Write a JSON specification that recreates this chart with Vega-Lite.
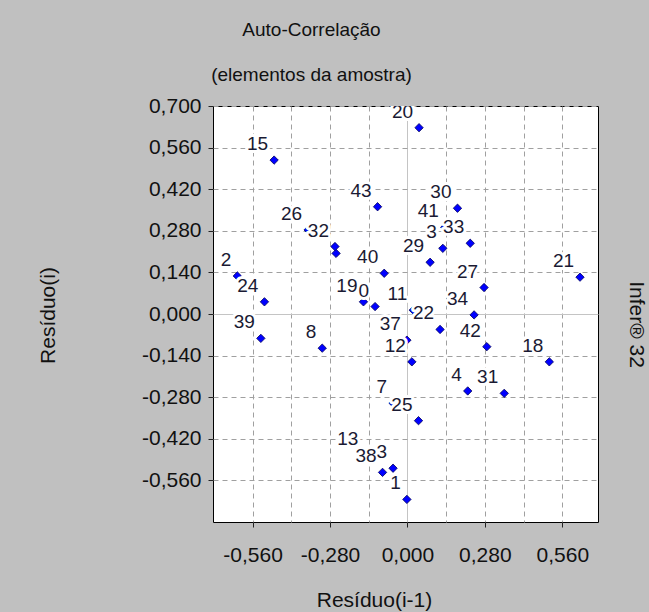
{
  "$schema": "https://vega.github.io/schema/vega-lite/v6.json",
  "width": 385,
  "height": 416,
  "autosize": {"type": "none"},
  "padding": {"left": 213, "top": 106, "right": 51, "bottom": 90},
  "background": "#c0c0c0",
  "title": {
    "text": "Auto-Correlação",
    "subtitle": "(elementos da amostra)",
    "font": "Liberation Sans",
    "subtitleFont": "Liberation Sans",
    "fontSize": 19,
    "subtitleFontSize": 19,
    "fontWeight": "normal",
    "color": "#111111",
    "subtitleColor": "#111111",
    "anchor": "middle",
    "frame": "group",
    "dx": -94,
    "offset": 10,
    "subtitlePadding": 26
  },
  "data": {
    "values": [
      {"x": 0.042, "y": 0.627, "label": "20"},
      {"x": -0.482, "y": 0.518, "label": "15"},
      {"x": -0.108, "y": 0.361, "label": "43"},
      {"x": 0.181, "y": 0.356, "label": "30"},
      {"x": 0.135, "y": 0.292, "label": "41"},
      {"x": 0.128, "y": 0.221, "label": "3"},
      {"x": 0.227, "y": 0.238, "label": "33"},
      {"x": 0.082, "y": 0.174, "label": "29"},
      {"x": -0.084, "y": 0.137, "label": "40"},
      {"x": 0.624, "y": 0.124, "label": "21"},
      {"x": 0.277, "y": 0.089, "label": "27"},
      {"x": -0.359, "y": 0.283, "label": "26"},
      {"x": -0.258, "y": 0.204, "label": ""},
      {"x": -0.262, "y": 0.227, "label": "32"},
      {"x": -0.615, "y": 0.128, "label": "2"},
      {"x": -0.517, "y": 0.041, "label": "24"},
      {"x": -0.117, "y": 0.025, "label": "0"},
      {"x": -0.159, "y": 0.041, "label": "19"},
      {"x": 0.021, "y": 0.013, "label": "11"},
      {"x": 0.118, "y": -0.052, "label": "22"},
      {"x": 0.241, "y": -0.003, "label": "34"},
      {"x": 0.016, "y": -0.161, "label": "12"},
      {"x": -0.002, "y": -0.088, "label": "37"},
      {"x": 0.287, "y": -0.110, "label": "42"},
      {"x": 0.513, "y": -0.161, "label": "18"},
      {"x": -0.530, "y": -0.082, "label": "39"},
      {"x": -0.308, "y": -0.115, "label": "8"},
      {"x": 0.218, "y": -0.259, "label": "4"},
      {"x": 0.350, "y": -0.267, "label": "31"},
      {"x": -0.052, "y": -0.300, "label": "7"},
      {"x": 0.040, "y": -0.359, "label": "25"},
      {"x": -0.156, "y": -0.475, "label": "13"},
      {"x": -0.090, "y": -0.533, "label": "38"},
      {"x": -0.052, "y": -0.519, "label": "3"},
      {"x": -0.002, "y": -0.624, "label": "1"}
    ]
  },
  "encoding": {
    "x": {
      "field": "x",
      "type": "quantitative",
      "scale": {"domain": [-0.703, 0.689], "nice": false, "zero": false}
    },
    "y": {
      "field": "y",
      "type": "quantitative",
      "scale": {"domain": [-0.7, 0.7], "nice": false, "zero": false}
    }
  },
  "layer": [
    {
      "mark": {"type": "point", "shape": "diamond", "filled": true, "size": 70, "fill": "#0000ff", "stroke": "#00005a", "strokeWidth": 0.8, "opacity": 1},
      "encoding": {
        "x": {
          "field": "x",
          "type": "quantitative",
          "axis": {
            "values": [-0.56, -0.42, -0.28, -0.14, 0, 0.14, 0.28, 0.42, 0.56],
            "labelExpr": "abs(round(datum.value / 0.14)) % 2 == 0 ? replace(replace(format(datum.value, '.3f'), '.', ','), '\u2212', '-') : ''",
            "domain": false,
            "grid": true,
            "gridColor": {"condition": {"test": "datum.value === 0", "value": "#c4c4c4"}, "value": "#a0a0a0"},
            "gridDash": {"condition": {"test": "datum.value === 0", "value": []}, "value": [5, 4]},
            "gridWidth": 1,
            "ticks": true,
            "tickSize": 5,
            "tickColor": "#222222",
            "tickOpacity": {"condition": {"test": "abs(round(datum.value / 0.14)) % 2 == 0", "value": 1}, "value": 0},
            "labelPadding": 17,
            "labelFont": "Liberation Sans",
            "labelFontSize": 21,
            "labelColor": "#111111",
            "labelFlush": false,
            "labelOverlap": false,
            "title": "Resíduo(i-1)",
            "titleFont": "Liberation Sans",
            "titleFontSize": 21,
            "titleFontWeight": "normal",
            "titleColor": "#111111",
            "titleX": 161,
            "titleY": 78,
            "titleBaseline": "middle"
          }
        },
        "y": {
          "field": "y",
          "type": "quantitative",
          "axis": {
            "orient": "left",
            "values": [-0.56, -0.42, -0.28, -0.14, 0, 0.14, 0.28, 0.42, 0.56, 0.7],
            "labelExpr": "replace(replace(format(datum.value, '.3f'), '.', ','), '\u2212', '-')",
            "domain": false,
            "grid": true,
            "gridColor": {"condition": {"test": "datum.value === 0", "value": "#c4c4c4"}, "value": "#a0a0a0"},
            "gridDash": {"condition": {"test": "datum.value === 0", "value": []}, "value": [5, 4]},
            "gridWidth": 1,
            "ticks": true,
            "tickSize": 5,
            "tickColor": "#222222",
            "labelPadding": 7,
            "labelFont": "Liberation Sans",
            "labelFontSize": 21,
            "labelColor": "#111111",
            "labelFlush": false,
            "labelOverlap": false,
            "title": "Resíduo(i)",
            "titleFont": "Liberation Sans",
            "titleFontSize": 21,
            "titleFontWeight": "normal",
            "titleColor": "#111111",
            "titleX": -165,
            "titleY": 209,
            "titleBaseline": "middle",
            "titleAngle": -90
          }
        }
      }
    },
    {
      "mark": {"type": "text", "align": "right", "baseline": "alphabetic", "dx": -6, "dy": -10, "font": "Liberation Sans", "fontSize": 19, "fill": "white", "stroke": "white", "strokeWidth": 6, "strokeJoin": "round", "clip": true},
      "encoding": {
        "text": {"field": "label"},
        "y": {"field": "y", "type": "quantitative", "axis": null}
      }
    },
    {
      "mark": {"type": "text", "align": "right", "baseline": "alphabetic", "dx": -6, "dy": -10, "font": "Liberation Sans", "fontSize": 19, "color": "#1a1a33", "clip": true},
      "encoding": {
        "text": {"field": "label"},
        "y": {
          "field": "y",
          "type": "quantitative",
          "axis": {
            "orient": "right",
            "labels": false,
            "ticks": false,
            "domain": false,
            "grid": false,
            "title": "Infer® 32",
            "titleFont": "Liberation Sans",
            "titleFontSize": 21,
            "titleFontWeight": "normal",
            "titleColor": "#111111",
            "titleAngle": 90,
            "titleX": 37,
            "titleY": 218,
            "titleBaseline": "middle"
          }
        }
      }
    }
  ],
  "resolve": {"axis": {"y": "independent"}},
  "config": {
    "font": "Liberation Sans",
    "view": {"fill": "white", "stroke": "#000000", "strokeWidth": 1}
  }
}
